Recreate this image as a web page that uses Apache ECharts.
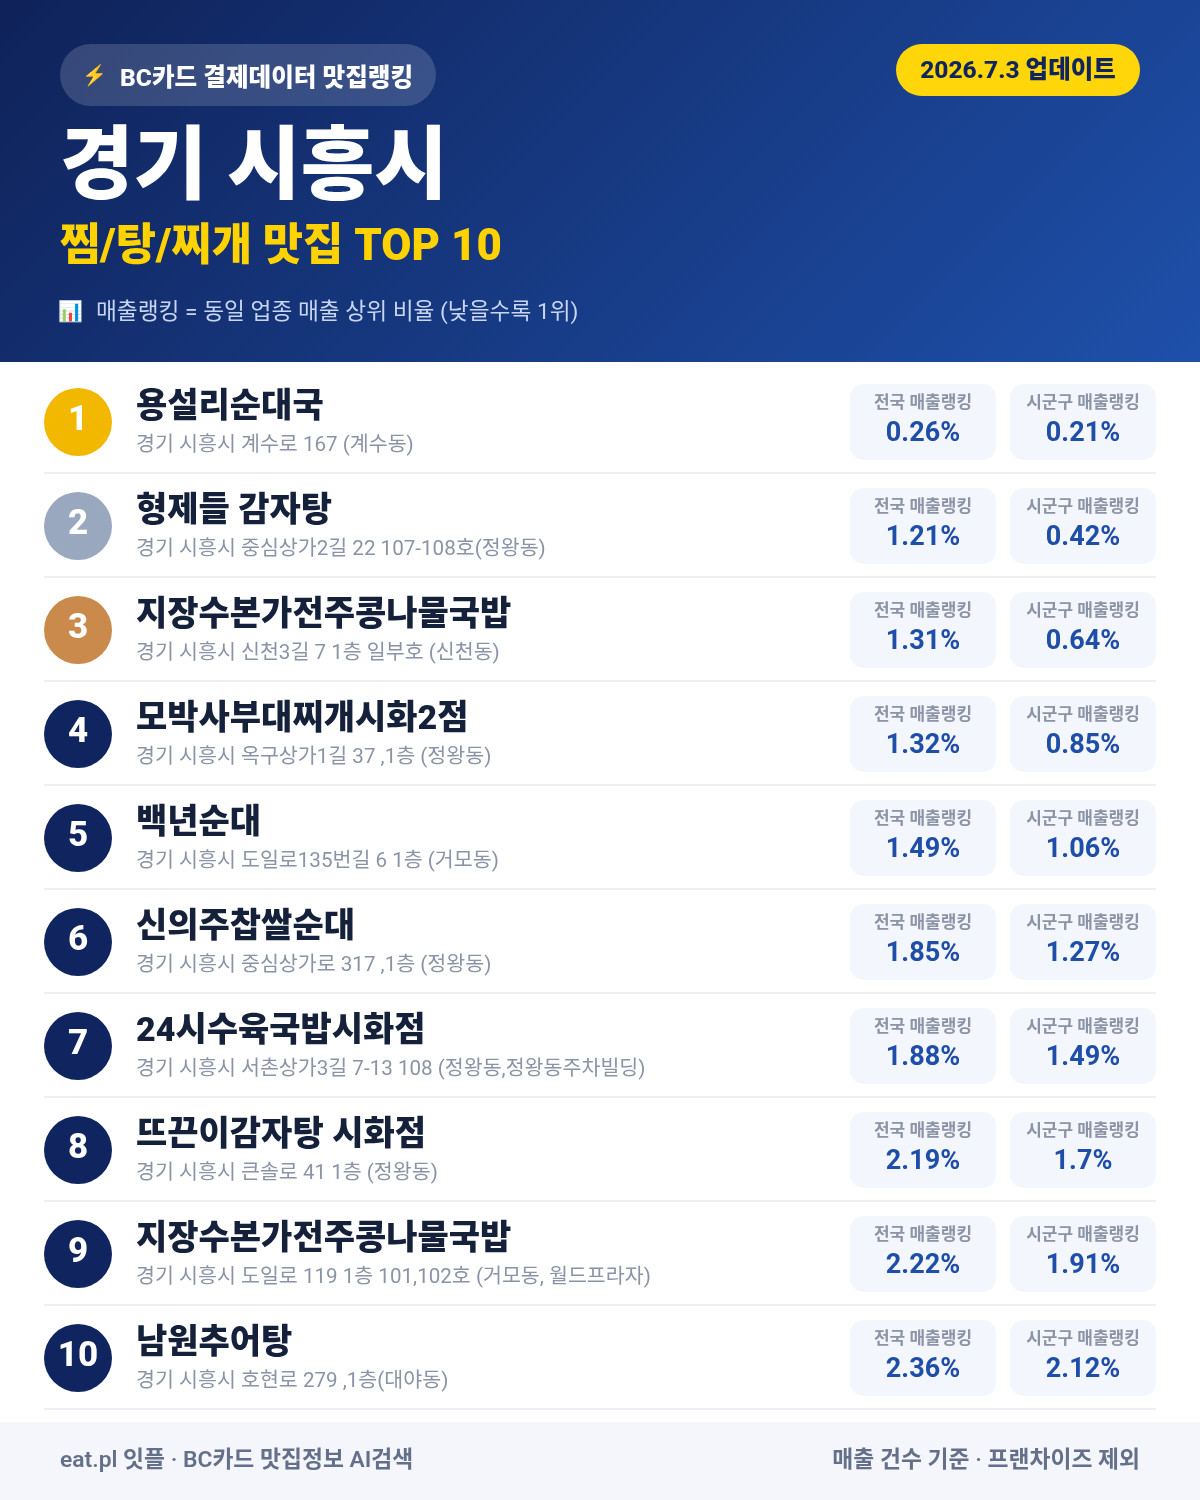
<!DOCTYPE html>
<html lang="ko">
<head>
<meta charset="utf-8">
<style>html,body{margin:0;padding:0;background:#fff}#c{width:1200px;height:1500px}</style>
<script src="https://cdn.jsdelivr.net/npm/echarts@6/dist/echarts.min.js"></script>
</head>
<body>
<div id="c"></div>
<script>
const badgeText = 'BC카드 결제데이터 맛집랭킹';
const updateText = '2026.7.3 업데이트';
const cityTitle = '경기 시흥시';
const subTitle = '찜/탕/찌개 맛집 TOP 10';
const noteText = '매출랭킹 = 동일 업종 매출 상위 비율 (낮을수록 1위)';
const footerLeft = 'eat.pl 잇플 · BC카드 맛집정보 AI검색';
const footerRight = '매출 건수 기준 · 프랜차이즈 제외';
const nationalLabel = '전국 매출랭킹';
const cityLabel = '시군구 매출랭킹';

const ranks = ['1','2','3','4','5','6','7','8','9','10'];
const names = ['용설리순대국','형제들 감자탕','지장수본가전주콩나물국밥','모박사부대찌개시화2점','백년순대','신의주찹쌀순대','24시수육국밥시화점','뜨끈이감자탕 시화점','지장수본가전주콩나물국밥','남원추어탕'];
const addresses = [
 '경기 시흥시 계수로 167 (계수동)',
 '경기 시흥시 중심상가2길 22 107-108호(정왕동)',
 '경기 시흥시 신천3길 7 1층 일부호 (신천동)',
 '경기 시흥시 옥구상가1길 37 ,1층 (정왕동)',
 '경기 시흥시 도일로135번길 6 1층 (거모동)',
 '경기 시흥시 중심상가로 317 ,1층 (정왕동)',
 '경기 시흥시 서촌상가3길 7-13 108 (정왕동,정왕동주차빌딩)',
 '경기 시흥시 큰솔로 41 1층 (정왕동)',
 '경기 시흥시 도일로 119 1층 101,102호 (거모동, 월드프라자)',
 '경기 시흥시 호현로 279 ,1층(대야동)'
];
const nationalRank = [0.26,1.21,1.31,1.32,1.49,1.85,1.88,2.19,2.22,2.36];
const cityRank = [0.21,0.42,0.64,0.85,1.06,1.27,1.49,1.7,1.91,2.12];

const FONT = 'Roboto,"Noto Sans CJK KR",sans-serif';
const medal = ['#F2B800','#9AA8BF','#C98A4B'];
const navy = '#10245F';

function txt(text,x,y,size,weight,fill,align){
  return {type:'text',z:5,style:{text,x,y,fontSize:size,fontWeight:weight,fontFamily:FONT,fill,align:align||'left',verticalAlign:'middle'}};
}
function renderRow(params,api){
  const i = api.value(0);
  const cy = api.coord([0,i])[1];
  const children = [];
  children.push({type:'circle',shape:{cx:78,cy:cy,r:34},style:{fill:i<3?medal[i]:navy}});
  children.push(txt(ranks[i],78,cy-0.5,35,800,'#fff','center'));
  children.push(txt(names[i],136,cy-14,34,900,'#15213B'));
  children.push(txt(addresses[i],136,cy+24,20.6,400,'#8A94A6'));
  [[850,nationalLabel,api.value(1)],[1010,cityLabel,api.value(2)]].forEach(function(c){
    children.push({type:'rect',shape:{x:c[0],y:cy-38,width:146,height:76,r:14},style:{fill:'#F3F6FC'}});
    children.push(txt(c[1],c[0]+73,cy-18,17,700,'#8A94A6','center'));
    children.push(txt(c[2]+'%',c[0]+73,cy+12,27,700,'#1E4EA8','center'));
  });
  children.push({type:'rect',shape:{x:44,y:cy+50,width:1112,height:2},style:{fill:'#EDEFF3'}});
  return {type:'group',children};
}

const chart = echarts.init(document.getElementById('c'),null,{renderer:'canvas',width:1200,height:1500});
chart.setOption({
  animation:false,
  backgroundColor:'#fff',
  grid:{left:0,right:0,top:370,height:1040},
  xAxis:{type:'value',min:0,max:1200,show:false},
  yAxis:{type:'category',inverse:true,data:ranks,show:false},
  graphic:[
    {type:'rect',z:1,shape:{x:0,y:0,width:1200,height:362},style:{fill:new echarts.graphic.LinearGradient(209.5,-209.5,990.5,571.5,[{offset:0,color:'#0F2259'},{offset:1,color:'#1E50AA'}],true)}},
    {type:'rect',z:2,shape:{x:60,y:44,width:376,height:62,r:31},style:{fill:'rgba(255,255,255,0.16)'}},
    {type:'text',z:3,style:{text:'⚡',x:95,y:76,fontSize:20,fontFamily:'"Noto Color Emoji",'+FONT,fill:'#FFC83D',align:'center',verticalAlign:'middle'}},
    {type:'text',z:3,style:{text:badgeText,x:120,y:80,fontSize:24.6,fontWeight:800,fontFamily:FONT,fill:'#fff',verticalAlign:'middle'}},
    {type:'rect',z:2,shape:{x:896,y:44,width:244,height:52,r:26},style:{fill:'#FFD60A'}},
    {type:'text',z:3,style:{text:updateText,x:1018,y:72,fontSize:24.5,fontWeight:800,fontFamily:FONT,fill:'#10245F',align:'center',verticalAlign:'middle'}},
    {type:'text',z:3,style:{text:cityTitle,x:60,y:172,fontSize:80,fontWeight:900,fontFamily:FONT,fill:'#fff',verticalAlign:'middle'}},
    {type:'text',z:3,style:{text:subTitle,x:60,y:249,fontSize:43.8,fontWeight:900,fontFamily:FONT,fill:'#FFD200',verticalAlign:'middle'}},
    {type:'text',z:3,style:{text:'📊',x:71,y:312,fontSize:20,fontFamily:'"Noto Color Emoji",'+FONT,fill:'#fff',align:'center',verticalAlign:'middle'}},
    {type:'text',z:3,style:{text:noteText,x:96,y:313,fontSize:22.7,fontWeight:400,fontFamily:FONT,fill:'#C6D5F2',verticalAlign:'middle'}},
    {type:'rect',z:1,shape:{x:0,y:1422,width:1200,height:78},style:{fill:'#F4F6FB'}},
    {type:'text',z:3,style:{text:footerLeft,x:60,y:1461,fontSize:22.8,fontWeight:600,fontFamily:FONT,fill:'#64708A',verticalAlign:'middle'}},
    {type:'text',z:3,style:{text:footerRight,x:1140,y:1461,fontSize:22.8,fontWeight:600,fontFamily:FONT,fill:'#64708A',align:'right',verticalAlign:'middle'}}
  ],
  series:[{
    type:'custom',
    coordinateSystem:'cartesian2d',
    clip:false,
    silent:true,
    renderItem:renderRow,
    encode:{y:0},
    data:ranks.map(function(r,i){return [i,nationalRank[i],cityRank[i]];})
  }]
});
</script>
</body>
</html>
